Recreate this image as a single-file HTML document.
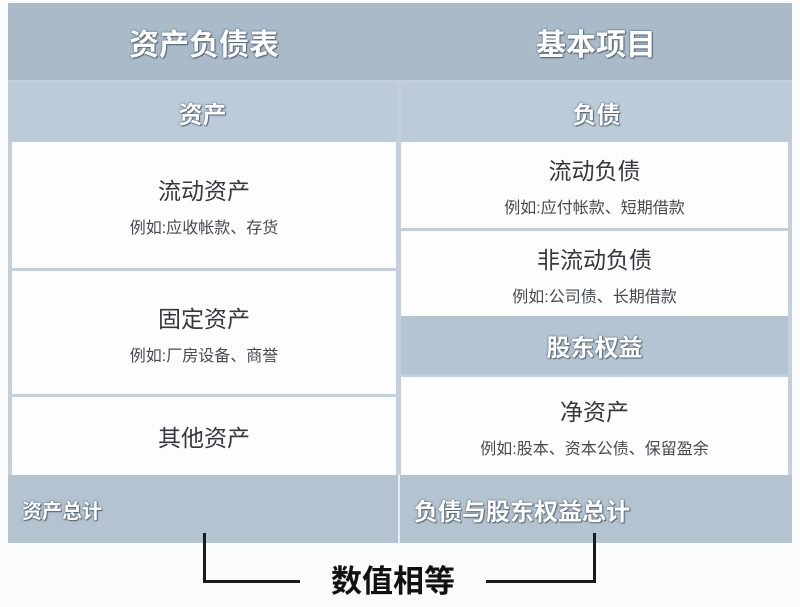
<!DOCTYPE html>
<html><head><meta charset="utf-8"><style>
body{margin:0;width:800px;height:607px;background:#fafbfc;position:relative;overflow:hidden;font-family:"Liberation Sans","Noto Sans CJK SC",sans-serif}
.b{position:absolute;display:flex;flex-direction:column;align-items:center;justify-content:center;box-sizing:border-box}
.h{color:#fff;font-weight:bold;text-shadow:0 0 2px #56677a,0 0 1px #56677a,1px 1px 1px #56677a}
.w{background:#fdfdfe;color:#33383f}
.t{font-size:23px}
.s{font-size:16px;margin-top:8px;color:#454a51}
.ln{position:absolute;background:#1a1a1a}
</style></head><body>
<div class="b" style="left:8px;top:3px;width:784px;height:540px;background:#c3d0dc"></div>
<div class="b h" style="left:8px;top:3px;width:784px;height:77px;background:#a9bac8"></div>
<div class="b h" style="left:8px;top:3px;width:392px;height:77px;font-size:30px">资产负债表</div>
<div class="b h" style="left:400px;top:3px;width:392px;height:77px;font-size:30px">基本项目</div>
<div class="b h" style="left:8px;top:82px;width:389px;height:60px;background:#bccbd8;font-size:24px">资产</div>
<div class="b h" style="left:401px;top:82px;width:391px;height:60px;background:#bccbd8;font-size:24px">负债</div>
<div class="b w" style="left:12px;top:142px;width:384px;height:126px"><div class="t">流动资产</div><div class="s">例如:应收帐款、存货</div></div>
<div class="b w" style="left:12px;top:271px;width:384px;height:123px"><div class="t">固定资产</div><div class="s">例如:厂房设备、商誉</div></div>
<div class="b w" style="left:12px;top:397px;width:384px;height:78px"><div class="t">其他资产</div></div>
<div class="b w" style="left:401px;top:142px;width:387px;height:86px"><div class="t">流动负债</div><div class="s">例如:应付帐款、短期借款</div></div>
<div class="b w" style="left:401px;top:231px;width:387px;height:85px"><div class="t">非流动负债</div><div class="s">例如:公司债、长期借款</div></div>
<div class="b h" style="left:401px;top:316px;width:387px;height:58px;background:#b4c4d2;font-size:24px">股东权益</div>
<div class="b w" style="left:401px;top:377px;width:387px;height:98px"><div class="t">净资产</div><div class="s">例如:股本、资本公债、保留盈余</div></div>
<div class="b" style="left:8px;top:475px;width:784px;height:68px;background:#b3c3d0"></div>
<div class="b" style="left:398px;top:475px;width:2px;height:68px;background:#e8edf2"></div>
<div class="b h" style="left:22px;top:475px;height:68px;font-size:20px;align-items:flex-start">资产总计</div>
<div class="b h" style="left:414px;top:475px;height:68px;font-size:24px;align-items:flex-start">负债与股东权益总计</div>
<div class="ln" style="left:203px;top:533px;width:3px;height:50px"></div>
<div class="ln" style="left:203px;top:580px;width:97px;height:3px"></div>
<div class="ln" style="left:593px;top:533px;width:3px;height:50px"></div>
<div class="ln" style="left:486px;top:580px;width:110px;height:3px"></div>
<div class="b" style="left:300px;top:555px;width:186px;height:46px;font-size:31px;color:#111;font-weight:bold">数值相等</div>
</body></html>
